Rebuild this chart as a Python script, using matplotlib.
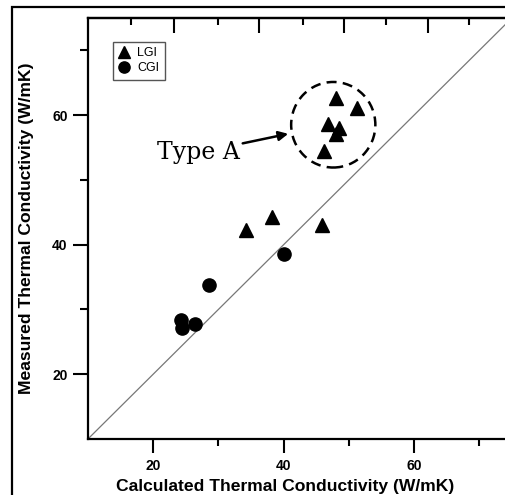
import matplotlib.pyplot as plt
import numpy as np
from matplotlib.patches import Ellipse, Rectangle

plt.rcParams['font.family'] = ['Liberation Sans', 'DejaVu Sans']

# datos
lgi_calc = [48.0, 51.3, 46.8, 48.5, 48.0, 46.2, 34.3, 38.2, 45.9]
lgi_meas = [62.6, 61.1, 58.6, 58.0, 57.1, 54.5, 42.2, 44.3, 43.1]
cgi_calc = [40.1, 28.6, 24.3, 24.4, 26.4]
cgi_meas = [38.6, 33.8, 28.3, 27.2, 27.7]
linea = [10, 75]
ticks_sup_largos = [23.2, 36.2, 49.3, 62.1]
ticks_sup_cortos = [16.6, 29.9, 43.0, 55.7, 68.4]

fig = plt.figure(figsize=(5.05, 4.95), dpi=100)
ax = fig.add_axes([0.174, 0.113, 0.84, 0.851])

ax.plot(linea, linea, color='#777777', lw=0.9)
ax.plot(lgi_calc, lgi_meas, '^', color='black', ms=10.5, label='LGI')
ax.plot(cgi_calc, cgi_meas, 'o', color='black', ms=9.5, label='CGI')

ax.set_xlim(10, 75)
ax.set_ylim(10, 75)
ax.set_xticks([20, 40, 60])
ax.set_xticks([30, 50, 70], minor=True)
ax.set_yticks([20, 40, 60])
ax.set_yticks([30, 50, 70], minor=True)

for s in ['left', 'bottom', 'top']:
    ax.spines[s].set_linewidth(1.6)
ax.spines['right'].set_visible(False)

ax.tick_params(axis='both', which='both', direction='out', width=1.5, labelsize=10)
ax.tick_params(axis='x', which='major', length=10, pad=4)
ax.tick_params(axis='x', which='minor', length=5)
ax.tick_params(axis='y', which='major', length=11, pad=3.5)
ax.tick_params(axis='y', which='minor', length=6)
for t in ax.get_xticklabels() + ax.get_yticklabels():
    t.set_fontweight('bold')

# eje superior con otra escala de ticks
sec = ax.secondary_xaxis('top')
sec.set_xticks(ticks_sup_largos)
sec.set_xticks(ticks_sup_cortos, minor=True)
sec.tick_params(which='both', direction='in', width=1.5, labeltop=False)
sec.tick_params(which='major', length=11)
sec.tick_params(which='minor', length=5)
sec.spines['top'].set_linewidth(1.6)

ax.set_xlabel('Calculated Thermal Conductivity (W/mK)', fontsize=12.6, fontweight='bold')
ax.set_ylabel('Measured Thermal Conductivity (W/mK)', fontsize=12.6, fontweight='bold')
ax.xaxis.set_label_coords(0.465, -0.095)
ax.yaxis.set_label_coords(-0.128, 0.5)

leg = ax.legend(loc='upper left', bbox_to_anchor=(0.059, 0.943), borderaxespad=0, fontsize=9,
                markerscale=0.85, handlelength=0.9, handletextpad=0.6, borderpad=0.45,
                labelspacing=0.2, fancybox=False, edgecolor='#555555', framealpha=1)
leg.get_frame().set_linewidth(1.0)

ax.add_patch(Ellipse((47.6, 58.5), 12.9, 13.2, fill=False, ls=(0, (4, 2.5)), lw=1.8, color='black'))
ax.annotate('Type A', xy=(40.7, 57.1), xytext=(33.3, 54.2), ha='right', va='center',
            fontsize=17, family='DejaVu Serif',
            arrowprops=dict(arrowstyle='-|>', color='black', lw=1.8, mutation_scale=14, shrinkA=0, shrinkB=0))

# marco de la imagen
fig.patches.append(Rectangle((0.023, -0.1), 1.2, 1.085, transform=fig.transFigure, fill=False,
                             lw=1.6, color='black'))

fig.savefig('out.png', dpi=100)
